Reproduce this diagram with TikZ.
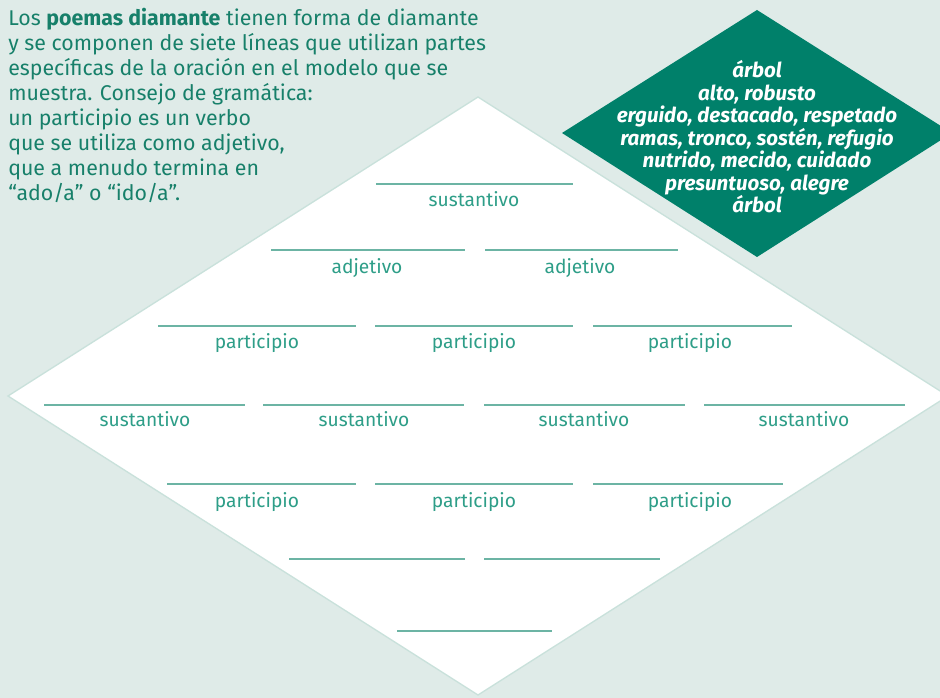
\documentclass[tikz,border=0pt]{standalone}
\usepackage{fontspec}
\setmainfont{Fira Sans}
\usetikzlibrary{positioning}

\definecolor{paleback}{HTML}{DFEBE8}
\definecolor{diamedge}{HTML}{C9E1DB}
\definecolor{darkgem}{HTML}{00806A}
\definecolor{blankline}{HTML}{6CB4A4}
\definecolor{labelgreen}{HTML}{2E9E88}
\definecolor{introgreen}{HTML}{17806A}

\tikzset{
	blank/.style={line width=2.2pt, draw=blankline},
	partlabel/.style={inner sep=0pt, anchor=base, text=labelgreen, font=\fontsize{14.4}{16}\selectfont},
	intro/.style={inner sep=0pt, anchor=north west, align=left, text=introgreen, font=\fontsize{16}{18.75}\selectfont},
	sample/.style={inner sep=0pt, align=center, text=white, font=\fontsize{15.4}{16.9}\selectfont\bfseries\itshape}
}

\begin{document}
\begin{tikzpicture}[x=0.75pt, y=-0.75pt]
	\useasboundingbox (0,0) rectangle (940,698);
	\fill[paleback] (0,0) rectangle (940,698);
	\clip (0,0) rectangle (940,698);

	% big white diamond
	\filldraw[fill=white, draw=diamedge, line width=1pt] (478,97) -- (948,396) -- (478,695) -- (8,396) -- cycle;

	% sample poem
	\fill[darkgem] (757,10) -- (952,133) -- (757,257) -- (562,133) -- cycle;
	\node[sample] (poem) at (757,137) {árbol\\alto, robusto\\erguido, destacado, respetado\\ramas, tronco, sostén, refugio\\nutrido, mecido, cuidado\\presuntuoso, alegre\\árbol};

	\node[intro] (tip) at (8,8) {Los \textbf{poemas diamante} tienen forma de diamante\\y se componen de siete líneas que utilizan partes\\específicas de la oración en el modelo que se\\muestra. Consejo de gramática:\\un participio es un verbo\\que se utiliza como adjetivo,\\que a menudo termina en\\“ado/a” o “ido/a”.};

	% line 1
	\draw[blank] (376,184) -- (573,184);
	\node[partlabel] (noun1) at (474,207) {sustantivo};

	% line 2
	\draw[blank] (271,250) -- (465,250);
	\draw[blank] (485,250) -- (678,250);
	\node[partlabel] (adj1) at (367,274) {adjetivo};
	\node[partlabel] (adj2) at (580,274) {adjetivo};

	% line 3
	\draw[blank] (158,326) -- (356,326);
	\draw[blank] (375,326) -- (573,326);
	\draw[blank] (593,326) -- (792,326);
	\foreach \x/\n in {257/1,474/2,690/3}
		\node[partlabel] (partA\n) at (\x,349) {participio};

	% line 4
	\draw[blank] (44,405) -- (245,405);
	\draw[blank] (263,405) -- (464,405);
	\draw[blank] (484,405) -- (685,405);
	\draw[blank] (704,405) -- (905,405);
	\foreach \x/\n in {145/2,364/3,584/4,804/5}
		\node[partlabel] (noun\n) at (\x,427) {sustantivo};

	% line 5
	\draw[blank] (167,484) -- (356,484);
	\draw[blank] (375,484) -- (573,484);
	\draw[blank] (593,484) -- (783,484);
	\foreach \x/\n in {257/1,474/2,690/3}
		\node[partlabel] (partB\n) at (\x,508) {participio};

	% line 6
	\draw[blank] (289,559) -- (465,559);
	\draw[blank] (484,559) -- (660,559);

	% line 7
	\draw[blank] (397,631) -- (552,631);
\end{tikzpicture}
\end{document}
